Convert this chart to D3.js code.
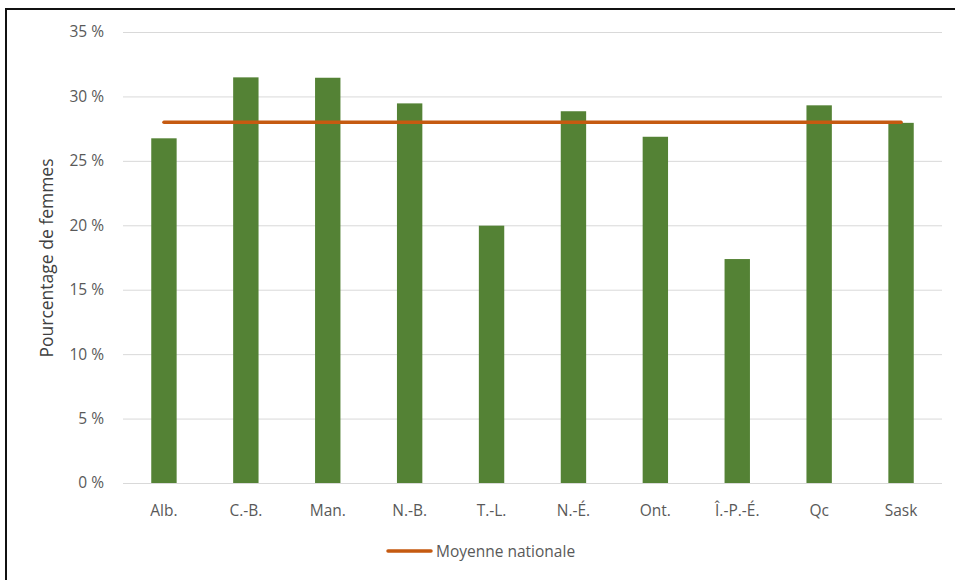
<!DOCTYPE html>
<html><head><meta charset="utf-8">
<script src="https://cdn.jsdelivr.net/npm/d3@7"></script>
<style>body{margin:0;background:#fff}svg{display:block}</style>
</head><body><svg id="c" width="955" height="580"></svg>
<script>
const categories = ["Alb.", "C.-B.", "Man.", "N.-B.", "T.-L.", "N.-É.", "Ont.", "Î.-P.-É.", "Qc", "Sask"];
const values = [26.75, 31.48, 31.45, 29.46, 19.97, 28.85, 26.87, 17.38, 29.31, 27.95];
const nationalAverage = [28.0, 28.0, 28.0, 28.0, 28.0, 28.0, 28.0, 28.0, 28.0, 28.0];
const yTicks = [0, 5, 10, 15, 20, 25, 30, 35];
const yTitle = "Pourcentage de femmes";
const legendLabel = "Moyenne nationale";

const svg = d3.select("#c");
const font = "'Open Sans', sans-serif";
const textColor = "#595959";
const fs = "15.5px";

svg.append("rect").attr("x", 6).attr("y", 9).attr("width", 960).attr("height", 600)
  .attr("fill", "#fff").attr("stroke", "#111").attr("stroke-width", 2);

const x = d3.scaleBand().domain(categories).range([123, 942]).paddingInner(0.69).paddingOuter(0.345);
const y = d3.scaleLinear().domain([0, 35]).range([483, 32]);

// gridlines
const yAxis = d3.axisLeft(y).tickValues(yTicks).tickSize(-(942 - 123)).tickFormat(d => d + " %");
const gy = svg.append("g").attr("transform", "translate(123,0)").call(yAxis);
gy.select(".domain").remove();
gy.selectAll(".tick line").attr("stroke", "#d9d9d9").attr("stroke-width", 1);
gy.selectAll(".tick text").attr("x", -19).attr("fill", textColor)
  .style("font-family", font).style("font-size", fs);

// bars
svg.append("g").selectAll("rect").data(categories).join("rect")
  .attr("x", d => x(d)).attr("width", x.bandwidth())
  .attr("y", (d, i) => y(values[i])).attr("height", (d, i) => y(0) - y(values[i]))
  .attr("fill", "#548235");

// x labels
const xAxis = d3.axisBottom(x).tickSize(0);
const gx = svg.append("g").attr("transform", "translate(0,483)").call(xAxis);
gx.select(".domain").remove();
gx.selectAll(".tick text").attr("dy", "0").attr("y", 33).attr("fill", textColor)
  .style("font-family", font).style("font-size", fs);

// national average line
const line = d3.line().x((d, i) => x(categories[i]) + x.bandwidth() / 2).y(d => y(d));
svg.append("path").datum(nationalAverage).attr("d", line)
  .attr("fill", "none").attr("stroke", "#c55a11").attr("stroke-width", 3.5).attr("stroke-linecap", "round");

// y title
svg.append("text").attr("transform", "translate(53,258) rotate(-90)")
  .attr("text-anchor", "middle").attr("fill", "#404040")
  .style("font-family", font).style("font-size", "17.5px").text(yTitle);

// legend
svg.append("line").attr("x1", 388).attr("x2", 431).attr("y1", 551).attr("y2", 551)
  .attr("stroke", "#c55a11").attr("stroke-width", 3.5).attr("stroke-linecap", "round");
svg.append("text").attr("x", 436).attr("y", 557).attr("fill", textColor)
  .style("font-family", font).style("font-size", fs).text(legendLabel);
</script></body></html>
